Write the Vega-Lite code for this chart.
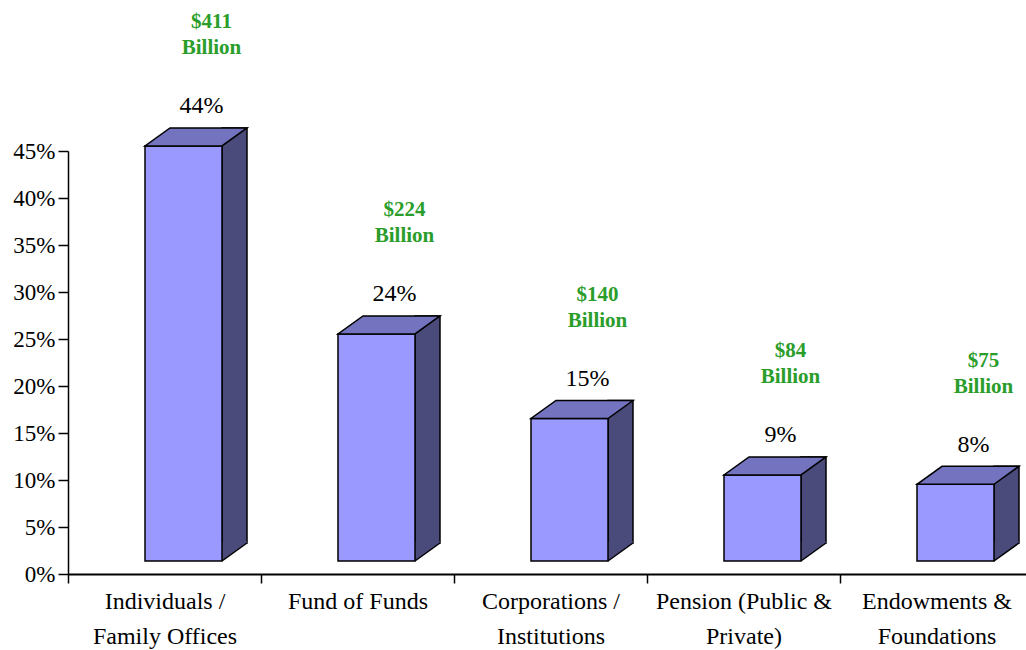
{
  "$schema": "https://vega.github.io/schema/vega-lite/v6.json",
  "width": 965,
  "height": 423,
  "autosize": "none",
  "padding": {"left": 68, "top": 151, "right": 0, "bottom": 76},
  "background": "white",
  "config": {"view": {"stroke": null}, "font": "Liberation Serif"},
  "data": {
    "values": [
      {"cat": "Individuals / Family Offices", "pct": 0.44, "amount": "$411"},
      {"cat": "Fund of Funds", "pct": 0.24, "amount": "$224"},
      {"cat": "Corporations / Institutions", "pct": 0.15, "amount": "$140"},
      {"cat": "Pension (Public & Private)", "pct": 0.09, "amount": "$84"},
      {"cat": "Endowments & Foundations", "pct": 0.08, "amount": "$75"}
    ]
  },
  "encoding": {
    "x": {
      "field": "cat", "type": "nominal", "sort": null,
      "scale": {"paddingInner": 0, "paddingOuter": 0},
      "axis": {
        "title": null, "tickBand": "extent", "tickSize": 9, "tickColor": "black", "tickWidth": 1.5,
        "domainColor": "black", "domainWidth": 2, "labelAngle": 0, "labelFontSize": 24,
        "labelFont": "Liberation Serif", "labelColor": "black", "labelLineHeight": 35, "labelPadding": 6,
        "labelLimit": 0,
        "labelExpr": "split(replace(replace(datum.label, ' / ', ' /|'), ' & ', ' &|'), '|')"
      }
    },
    "y": {
      "field": "pct", "type": "quantitative",
      "scale": {"domain": [0, 0.45], "nice": false, "zero": true},
      "axis": {
        "title": null, "values": [0, 0.05, 0.1, 0.15, 0.2, 0.25, 0.3, 0.35, 0.4, 0.45],
        "format": ".0%", "grid": false, "labelFontSize": 23, "labelFont": "Liberation Serif",
        "labelColor": "black", "tickColor": "black", "tickSize": 10, "tickWidth": 1.5,
        "domainColor": "black", "domainWidth": 1.5, "labelPadding": 3, "labelFlush": false, "labelOverlap": false
      }
    }
  },
  "layer": [
    {
      "mark": {"type": "bar", "width": 25, "xOffset": 70, "yOffset": -32.5, "y2Offset": -31, "fill": "#4b4b7b", "stroke": "black", "strokeWidth": 1.5},
      "encoding": {"y2": {"datum": 0}}
    },
    {
      "mark": {"type": "point", "shape": "M57.5,-32.5L82.5,-32.5L82.5,-31L57.5,-13Z", "size": 4, "filled": true, "fill": "#4b4b7b", "strokeWidth": 0, "opacity": 1},
      "encoding": {"y": {"datum": 0}}
    },
    {
      "mark": {"type": "point", "shape": "M57.5,-13L82.5,-31", "size": 4, "filled": false, "fill": null, "stroke": "black", "strokeWidth": 1.5, "opacity": 1},
      "encoding": {"y": {"datum": 0}}
    },
    {
      "mark": {"type": "bar", "width": 77, "xOffset": 19, "yOffset": -14.5, "y2Offset": -13, "fill": "#9999ff", "stroke": "black", "strokeWidth": 1.5},
      "encoding": {"y2": {"datum": 0}}
    },
    {
      "mark": {"type": "point", "shape": "M-19.5,-14.5L57.5,-14.5L82.5,-32.5L5.5,-32.5Z", "size": 4, "filled": true, "fill": "#7373bf", "stroke": "black", "strokeWidth": 1.5, "opacity": 1}
    },
    {
      "mark": {"type": "text", "dx": 37, "dy": -54, "fontSize": 24, "font": "Liberation Serif", "fill": "black", "baseline": "middle", "align": "center"},
      "encoding": {"text": {"field": "pct", "type": "quantitative", "format": ".0%"}}
    },
    {
      "mark": {"type": "text", "dx": 47, "dy": -138, "fontSize": 21, "fontWeight": "bold", "font": "Liberation Serif", "fill": "#2a9d2a", "baseline": "middle", "align": "center"},
      "encoding": {"text": {"field": "amount", "type": "nominal"}}
    },
    {
      "mark": {"type": "text", "dx": 47, "dy": -112, "fontSize": 21, "fontWeight": "bold", "font": "Liberation Serif", "fill": "#2a9d2a", "baseline": "middle", "align": "center"},
      "encoding": {"text": {"value": "Billion"}}
    }
  ]
}
